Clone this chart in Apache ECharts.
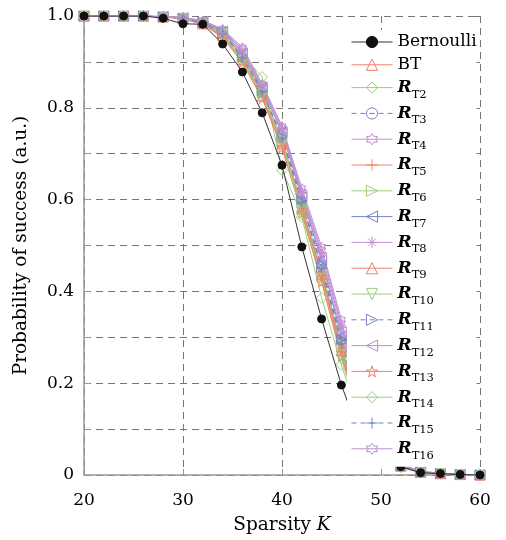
<!DOCTYPE html>
<html>
<head>
<meta charset="utf-8">
<script src="https://cdn.jsdelivr.net/npm/echarts@6/dist/echarts.min.js"></script>
<style>html,body{margin:0;padding:0;background:#fff;}#c{width:506px;height:540px;}</style>
</head>
<body>
<div id="c"></div>
<script>
// ---- data ----
var sparsityK = [20,22,24,26,28,30,32,34,36,38,40,42,44,46,48,50,52,54,56,58,60];
var xTickLabels = ['20','30','40','50','60'];
var yTickLabels = ['0','0.2','0.4','0.6','0.8','1.0'];
var seriesNames = ['Bernoulli','BT','T2','T3','T4','T5','T6','T7','T8','T9','T10','T11','T12','T13','T14','T15','T16'];

var bernoulli = [1.000,1.000,1.000,1.000,0.995,0.983,0.982,0.939,0.878,0.789,0.675,0.497,0.340,0.196,0.080,0.030,0.018,0.005,0.003,0.001,0.000];
var bt   = [1,1,1,1,0.998,0.995,0.985,0.962,0.912,0.838,0.728,0.585,0.440,0.280,0.130,0.055,0.020,0.006,0.003,0.001,0];
var rT2  = [1,1,1,1,0.998,0.996,0.988,0.965,0.915,0.867,0.664,0.568,0.425,0.262,0.120,0.050,0.019,0.006,0.003,0.001,0];
var rT3  = [1,1,1,1,0.998,0.994,0.984,0.960,0.908,0.830,0.742,0.598,0.458,0.292,0.140,0.058,0.022,0.007,0.003,0.001,0];
var rT4  = [1,1,1,1,0.999,0.997,0.990,0.972,0.932,0.852,0.760,0.625,0.497,0.338,0.165,0.068,0.024,0.008,0.004,0.001,0];
var rT5  = [1,1,1,1,0.998,0.994,0.982,0.955,0.902,0.824,0.716,0.575,0.432,0.268,0.125,0.050,0.018,0.006,0.003,0.001,0];
var rT6  = [1,1,1,1,0.998,0.995,0.986,0.962,0.910,0.834,0.732,0.592,0.448,0.285,0.135,0.055,0.020,0.006,0.003,0.001,0];
var rT7  = [1,1,1,1,0.998,0.996,0.987,0.966,0.918,0.842,0.748,0.606,0.468,0.302,0.145,0.060,0.021,0.007,0.003,0.001,0];
var rT8  = [1,1,1,1,0.999,0.996,0.989,0.969,0.924,0.848,0.754,0.614,0.482,0.322,0.155,0.064,0.023,0.007,0.004,0.001,0];
var rT9  = [1,1,1,1,0.998,0.994,0.983,0.957,0.905,0.826,0.722,0.580,0.437,0.272,0.128,0.052,0.019,0.006,0.003,0.001,0];
var rT10 = [1,1,1,1,0.998,0.995,0.984,0.958,0.904,0.830,0.724,0.574,0.428,0.252,0.118,0.048,0.018,0.006,0.003,0.001,0];
var rT11 = [1,1,1,1,0.998,0.995,0.986,0.963,0.912,0.838,0.736,0.600,0.452,0.296,0.140,0.057,0.021,0.007,0.003,0.001,0];
var rT12 = [1,1,1,1,0.999,0.996,0.988,0.967,0.920,0.845,0.745,0.610,0.474,0.312,0.150,0.062,0.022,0.007,0.003,0.001,0];
var rT13 = [1,1,1,1,0.998,0.994,0.982,0.953,0.898,0.820,0.712,0.570,0.420,0.258,0.122,0.050,0.018,0.006,0.003,0.001,0];
var rT14 = [1,1,1,1,0.998,0.995,0.985,0.960,0.906,0.833,0.730,0.562,0.386,0.240,0.110,0.045,0.017,0.005,0.003,0.001,0];
var rT15 = [1,1,1,1,0.998,0.995,0.985,0.961,0.909,0.835,0.734,0.594,0.450,0.286,0.135,0.055,0.020,0.006,0.003,0.001,0];
var rT16 = [1,1,1,1,0.999,0.997,0.989,0.970,0.928,0.850,0.757,0.618,0.490,0.330,0.160,0.066,0.023,0.008,0.004,0.001,0];

var seriesValues = [bernoulli, bt, rT2, rT3, rT4, rT5, rT6, rT7, rT8, rT9, rT10, rT11, rT12, rT13, rT14, rT15, rT16];

// ---- styles ----
var RED = '#F2806C', GREEN = '#9CCF7C', BLUE = '#7284C6', PURPLE = '#C18ED3';
function starPath(n, rIn) {
  var p = [];
  for (var i = 0; i < 2 * n; i++) {
    var a = -Math.PI / 2 + i * Math.PI / n;
    var r = (i % 2 === 0) ? 1 : rIn;
    p.push((i ? 'L' : 'M') + (r * Math.cos(a)).toFixed(4) + ',' + (r * Math.sin(a)).toFixed(4));
  }
  return 'path://' + p.join('') + 'Z';
}
var HEX = starPath(6, 0.577), PENT = starPath(5, 0.382);
var PLUS = 'path://M0,-1L0,1M-1,0L1,0';
var AST = 'path://M0,-1L0,1M-1,0L1,0M-0.7,-0.7L0.7,0.7M-0.7,0.7L0.7,-0.7';

var styleDefs = [
  {c: '#111', s: 'circle', rot: 0, dash: 'solid', size: 8, fill: '#111'},
  {c: RED, s: 'triangle', rot: 0, dash: 'solid', size: 10},
  {c: GREEN, s: 'diamond', rot: 0, dash: 'solid', size: 11},
  {c: BLUE, s: 'circle', rot: 0, dash: [5, 4], size: 8},
  {c: PURPLE, s: HEX, rot: 0, dash: 'solid', size: 9},
  {c: RED, s: PLUS, rot: 0, dash: 'solid', size: 10},
  {c: GREEN, s: 'triangle', rot: -90, dash: 'solid', size: 10},
  {c: BLUE, s: 'triangle', rot: 90, dash: 'solid', size: 10},
  {c: PURPLE, s: AST, rot: 0, dash: 'solid', size: 9},
  {c: RED, s: 'triangle', rot: 0, dash: 'solid', size: 10},
  {c: GREEN, s: 'triangle', rot: 180, dash: 'solid', size: 10},
  {c: BLUE, s: 'triangle', rot: -90, dash: [5, 4], size: 10},
  {c: PURPLE, s: 'triangle', rot: 90, dash: 'solid', size: 10},
  {c: RED, s: PENT, rot: 0, dash: 'solid', size: 10},
  {c: GREEN, s: 'diamond', rot: 0, dash: 'solid', size: 11},
  {c: BLUE, s: PLUS, rot: 0, dash: [5, 4], size: 10},
  {c: PURPLE, s: HEX, rot: 0, dash: 'solid', size: 9}
];

var series = seriesNames.map(function (name, i) {
  var st = styleDefs[i];
  return {
    name: name,
    type: 'line',
    data: sparsityK.map(function (k, j) { return [k, seriesValues[i][j]]; }),
    symbol: st.s,
    symbolSize: st.size,
    symbolRotate: st.rot,
    symbolKeepAspect: true,
    z: i === 0 ? 3 : 2,
    lineStyle: {color: i === 0 ? '#333' : st.c, width: 1, type: st.dash},
    itemStyle: {color: st.fill || 'rgba(255,255,255,0)', borderColor: st.c, borderWidth: 1},
    emphasis: {disabled: true},
    animation: false
  };
});
// draw Bernoulli last so its dots lie on top
series.push(series.shift());

var FONT = 'DejaVu Serif';
var option = {
  animation: false,
  backgroundColor: '#fff',
  grid: {left: 84, right: 26, top: 16, bottom: 65, outerBoundsMode: 'none', containLabel: false},
  xAxis: [{
    type: 'value', min: 20, max: 60, interval: 10,
    name: 'Sparsity {i|K}', nameLocation: 'middle', nameGap: 41,
    nameTextStyle: {fontFamily: FONT, fontSize: 18.5, color: '#000',
      rich: {i: {fontFamily: FONT, fontStyle: 'italic', fontSize: 18.5, color: '#000'}}},
    axisLine: {show: true, onZero: false, lineStyle: {color: '#9b9692', width: 1.5}},
    axisTick: {show: true, inside: true, length: 6, lineStyle: {color: '#9b9692'}},
    axisLabel: {fontFamily: FONT, fontSize: 17, color: '#000', margin: 17,
      formatter: function (v) { var i = xTickLabels.indexOf(String(v)); return i >= 0 ? xTickLabels[i] : ''; }},
    splitLine: {show: true, lineStyle: {color: '#777', width: 1, type: [7, 5]}}
  }],
  yAxis: [{
    type: 'value', min: 0, max: 1, interval: 0.1,
    name: 'Probability of success (a.u.)', nameLocation: 'middle', nameGap: 53,
    nameTextStyle: {fontFamily: FONT, fontSize: 18.5, color: '#000'},
    axisLine: {show: true, onZero: false, lineStyle: {color: '#9b9692', width: 1.5}},
    axisTick: {show: true, inside: true, length: 6, lineStyle: {color: '#9b9692'}},
    axisLabel: {fontFamily: FONT, fontSize: 17, color: '#000', margin: 10,
      formatter: function (v) { var n = Math.round(v * 10); return n % 2 === 0 ? yTickLabels[n / 2] : ''; }},
    splitLine: {show: true, lineStyle: {color: '#777', width: 1, type: [7, 5]}}
  }, {
    type: 'value', min: 0, max: 1, interval: 0.1, position: 'right',
    axisLine: {show: false},
    axisTick: {show: true, inside: true, length: 6, lineStyle: {color: '#777'}},
    axisLabel: {show: false},
    splitLine: {show: false}
  }],
  legend: {
    orient: 'vertical', left: 347, top: 30, height: 500,
    padding: [2, 0, 5, 4],
    backgroundColor: '#fff',
    itemWidth: 41, itemHeight: 14, itemGap: 2.8,
    data: seriesNames,
    itemStyle: {borderWidth: 1},
    lineStyle: {width: 1},
    selectedMode: false,
    formatter: function (name) {
      if (name === 'Bernoulli' || name === 'BT') return '{n|' + name + '}';
      return '{r|R}{s|' + name + '}';
    },
    textStyle: {fontFamily: FONT, fontSize: 17, color: '#000', lineHeight: 20,
      rich: {
        n: {fontFamily: FONT, fontSize: 17, color: '#000', lineHeight: 20, height: 20},
        r: {fontFamily: FONT, fontSize: 17, fontWeight: 'bold', fontStyle: 'italic', color: '#000', lineHeight: 20, height: 20},
        s: {fontFamily: FONT, fontSize: 11.5, color: '#000', lineHeight: 20, height: 6, verticalAlign: 'bottom'}
      }}
  },
  series: series
};
var chart = echarts.init(document.getElementById('c'), null, {renderer: 'canvas'});
chart.setOption(option);
</script>
</body>
</html>
